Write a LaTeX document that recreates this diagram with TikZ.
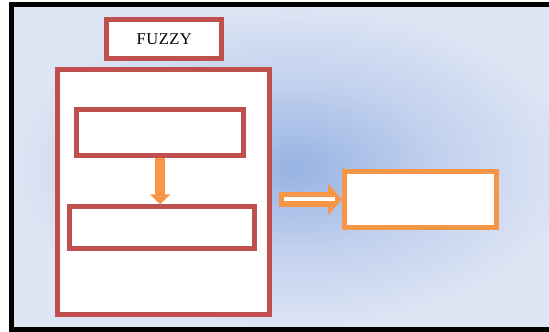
\documentclass[tikz,border=0pt]{standalone}
\usepackage{fontspec}
\setmainfont{Liberation Serif}
\usetikzlibrary{arrows.meta,calc}
\definecolor{boxred}{HTML}{C0504D}
\definecolor{boxorange}{HTML}{F79646}
\definecolor{bgedge}{HTML}{DEE5F4}
\definecolor{bgmid}{HTML}{C2D1EE}
\definecolor{bgcore}{HTML}{97B3E2}
\pgfdeclareradialshading{panel}{\pgfpoint{0bp}{0bp}}{%
  color(0bp)=(bgcore); color(13bp)=(bgmid); color(25bp)=(bgedge); color(50bp)=(bgedge)}
\tikzset{
  redbox/.style={draw=boxred, line width=5pt, fill=white, inner sep=0pt},
  orangebox/.style={draw=boxorange, line width=5pt, fill=white, inner sep=0pt},
}
\begin{document}
\begin{tikzpicture}[x=1pt, y=-1pt]
  \useasboundingbox (0,0) rectangle (549,332);
  \clip (0,0) rectangle (549,332);
  % framed, shaded background panel
  \shade[shading=panel] (11.5,4.5) rectangle (575,329.5);
  \draw[black, line width=5pt] (11.5,4.5) rectangle (575,329.5);

  % title box
  \node[redbox, minimum width=115pt, minimum height=39.3pt,
        font=\fontsize{16.5}{18}\selectfont\addfontfeature{LetterSpace=3}] (title) at (164.3,38.9) {FUZZY};

  % outer container and its two inner boxes
  \node[redbox, minimum width=212pt, minimum height=245pt] (big) at (163.5,192) {};
  \node[redbox, minimum width=166.8pt, minimum height=45.4pt] (top) at (160.1,132.5) {};
  \node[redbox, minimum width=184.8pt, minimum height=41.4pt] (bottom) at (161.8,227.5) {};

  % result box
  \node[orangebox, minimum width=152pt, minimum height=56.3pt] (out) at (420.5,199.4) {};

  % arrow between the inner boxes
  \draw[boxorange, line width=9.5pt, -{Triangle[width=20pt,length=10pt]}]
    ($(top.south)+(0,0.5)$) -- (top.south |- bottom.north);

  % block arrow from the container to the result box
  \draw[boxorange, line width=14.3pt, -{Triangle[width=31pt,length=14pt]}]
    ($(big.east |- out.west)+(7pt,0)$) -- (out.west);
  \draw[white, line width=4pt]
    ($(big.east |- out.west)+(12pt,0)$) -- ($(out.west)+(-7pt,0)$);
\end{tikzpicture}
\end{document}
